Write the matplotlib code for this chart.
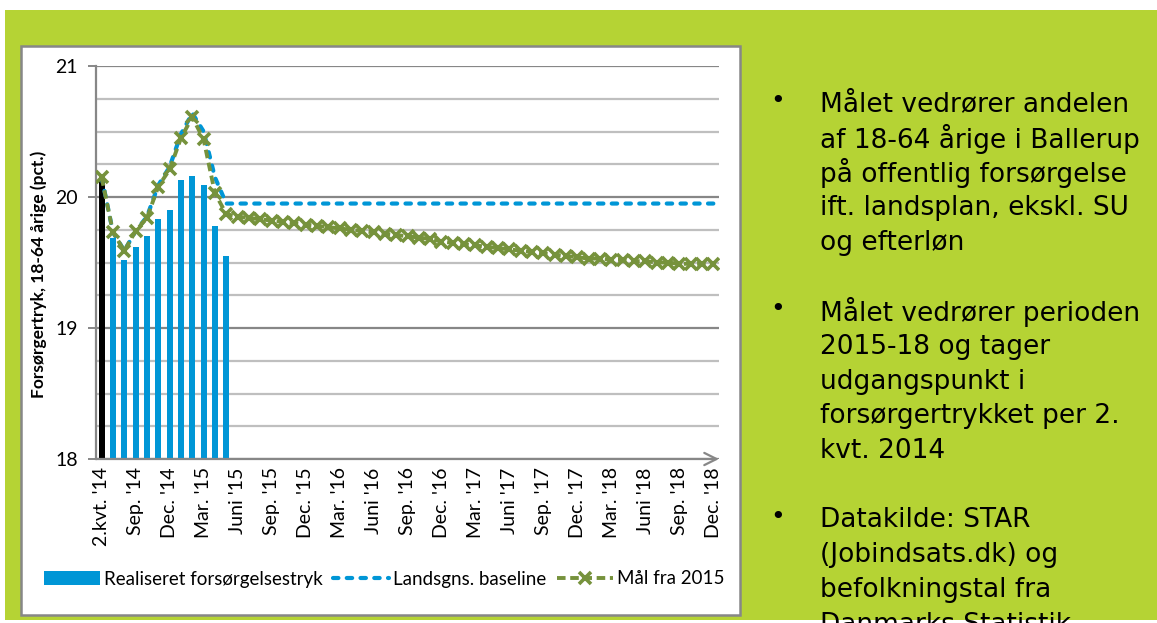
import matplotlib.pyplot as plt
from matplotlib.patches import Rectangle, Patch
from matplotlib.lines import Line2D

# === Data (monthly, 2.kvt. 2014 -> Dec. 2018)
tick_labels = ["2.kvt. '14", "Sep. '14", "Dec. '14", "Mar. '15", "Juni '15",
               "Sep. '15", "Dec. '15", "Mar. '16", "Juni '16", "Sep. '16",
               "Dec. '16", "Mar. '17", "Juni '17", "Sep. '17", "Dec. '17",
               "Mar. '18", "Juni '18", "Sep. '18", "Dec. '18"]

realiseret = [20.12, 19.69, 19.52, 19.62, 19.70, 19.83, 19.90, 20.13,
              20.16, 20.09, 19.78, 19.55]

baseline = [20.15, 19.73, 19.59, 19.74, 19.85, 20.09, 20.23, 20.48,
            20.64, 20.50, 20.15, 19.95, 19.95, 19.95, 19.95, 19.95,
            19.95, 19.95, 19.95, 19.95, 19.95, 19.95, 19.95, 19.95,
            19.95, 19.95, 19.95, 19.95, 19.95, 19.95, 19.95, 19.95,
            19.95, 19.95, 19.95, 19.95, 19.95, 19.95, 19.95, 19.95,
            19.95, 19.95, 19.95, 19.95, 19.95, 19.95, 19.95, 19.95,
            19.95, 19.95, 19.95, 19.95, 19.95, 19.95, 19.95]

maal = [20.15, 19.73, 19.59, 19.74, 19.84, 20.08, 20.21, 20.45,
        20.61, 20.44, 20.03, 19.87, 19.85, 19.84, 19.83, 19.82,
        19.81, 19.80, 19.79, 19.78, 19.77, 19.76, 19.75, 19.74,
        19.73, 19.72, 19.71, 19.70, 19.69, 19.68, 19.66, 19.65,
        19.64, 19.63, 19.62, 19.61, 19.60, 19.59, 19.58, 19.57,
        19.56, 19.55, 19.54, 19.53, 19.53, 19.52, 19.52, 19.51,
        19.51, 19.50, 19.50, 19.49, 19.49, 19.49, 19.49]

legend_labels = ["Realiseret forsørgelsestryk", "Landsgns. baseline", "Mål fra 2015"]

bullets = [
    ["Målet vedrører andelen", "af 18-64 årige i Ballerup",
     "på offentlig forsørgelse", "ift. landsplan, ekskl. SU", "og efterløn"],
    ["Målet vedrører perioden", "2015-18 og tager", "udgangspunkt i",
     "forsørgertrykket per 2.", "kvt. 2014"],
    ["Datakilde: STAR", "(Jobindsats.dk) og", "befolkningstal fra",
     "Danmarks Statistik"],
]

# === Style
W, H = 1157, 623
GREEN_BG = "#B5D334"
BLUE = "#0096D6"
OLIVE = "#76923C"
GRAY = "#878787"
LIGHT = "#BFBFBF"
chart_font = "Lato"
tick_size = 14

fig = plt.figure(figsize=(W / 100, H / 100), dpi=100, facecolor="white")

def fx(px):
    return px / W

def fy(py):
    return 1 - py / H

# background panels
fig.patches.append(Rectangle((fx(5), fy(620)), 1, fy(10) - fy(620),
                             transform=fig.transFigure, facecolor=GREEN_BG,
                             edgecolor="none", zorder=0))
fig.patches.append(Rectangle((fx(21), fy(615)), fx(740) - fx(21), fy(46) - fy(615),
                             transform=fig.transFigure, facecolor="white",
                             edgecolor=GRAY, linewidth=1.8, zorder=1))

# === Chart
ax = fig.add_axes([fx(96), fy(459), fx(719) - fx(96), fy(66) - fy(459)])
ax.set_facecolor("none")
ax.set_zorder(2)

n = len(maal)
x = list(range(n))
bar_colors = ["black"] + [BLUE] * (len(realiseret) - 1)
ax.bar(x[:len(realiseret)], [v - 18 for v in realiseret], bottom=18,
       width=0.52, color=bar_colors, zorder=2)

ax.plot(x, baseline, color=BLUE, lw=3.0, dashes=(1.3, 2.0),
        dash_capstyle="round", zorder=3)
ax.plot(x, maal, color=OLIVE, lw=2.8, dashes=(2.2, 1.2), marker="x",
        markersize=8.5, markeredgewidth=2.6, zorder=4)

ax.set_xlim(-0.5, n - 0.5)
ax.set_ylim(18, 21)
ax.set_yticks([18, 19, 20, 21])
ax.set_yticks([18.25, 18.5, 18.75, 19.25, 19.5, 19.75, 20.25, 20.5, 20.75],
              minor=True)
ax.grid(axis="y", which="major", color=GRAY, lw=1.6, zorder=0)
ax.grid(axis="y", which="minor", color=LIGHT, lw=1.6, zorder=0)
ax.set_axisbelow(True)
ax.tick_params(axis="y", which="major", length=6, width=1.4, color=GRAY,
               labelsize=tick_size, pad=7)
ax.tick_params(axis="y", which="minor", length=0)
for lab in ax.get_yticklabels():
    lab.set_fontfamily(chart_font)

ax.set_xticks(x[::3])
ax.set_xticklabels(tick_labels, rotation=90, fontsize=tick_size, family=chart_font)
ax.tick_params(axis="x", length=0, pad=6)

for s in ["top", "right", "bottom"]:
    ax.spines[s].set_visible(False)
ax.spines["left"].set_color(GRAY)
ax.spines["left"].set_linewidth(1.6)
ax.annotate("", xy=(1.0, 0), xytext=(0, 0), xycoords="axes fraction",
            arrowprops=dict(arrowstyle="->", color=GRAY, lw=1.6,
                            mutation_scale=22, shrinkA=0, shrinkB=0))

fig.text(fx(39), fy(274), "Forsørgertryk, 18-64 årige (pct.)", rotation=90,
         ha="center", va="center", fontsize=12.5, fontweight="bold",
         family=chart_font)

# legend
handles = [Patch(facecolor=BLUE, edgecolor="none"),
           Line2D([], [], color=BLUE, lw=3.0, dashes=(1.3, 2.0),
                  dash_capstyle="round"),
           Line2D([], [], color=OLIVE, lw=2.8, dashes=(2.2, 1.2), marker="x",
                  markersize=8.5, markeredgewidth=2.6)]
fig.legend(handles, legend_labels, loc="center left",
           bbox_to_anchor=(fx(44), fy(579)), ncol=3, frameon=False,
           prop={"family": chart_font, "size": 13.5}, handlelength=3.0,
           handletextpad=0.2, columnspacing=0.55, borderpad=0, borderaxespad=0)

# === Right hand bullet text
y0 = 101
step = 34.7
line_no = 0
for para in bullets:
    fig.text(fx(778), fy(y0 + line_no * step), "•", ha="center", va="center",
             fontsize=18, family="DejaVu Sans", zorder=3)
    for line in para:
        fig.text(fx(820), fy(y0 + line_no * step), line, ha="left",
                 va="center_baseline", fontsize=19, family="DejaVu Sans",
                 zorder=3)
        line_no += 1
    line_no += 1

fig.savefig("out.png", dpi=100, facecolor="white")
